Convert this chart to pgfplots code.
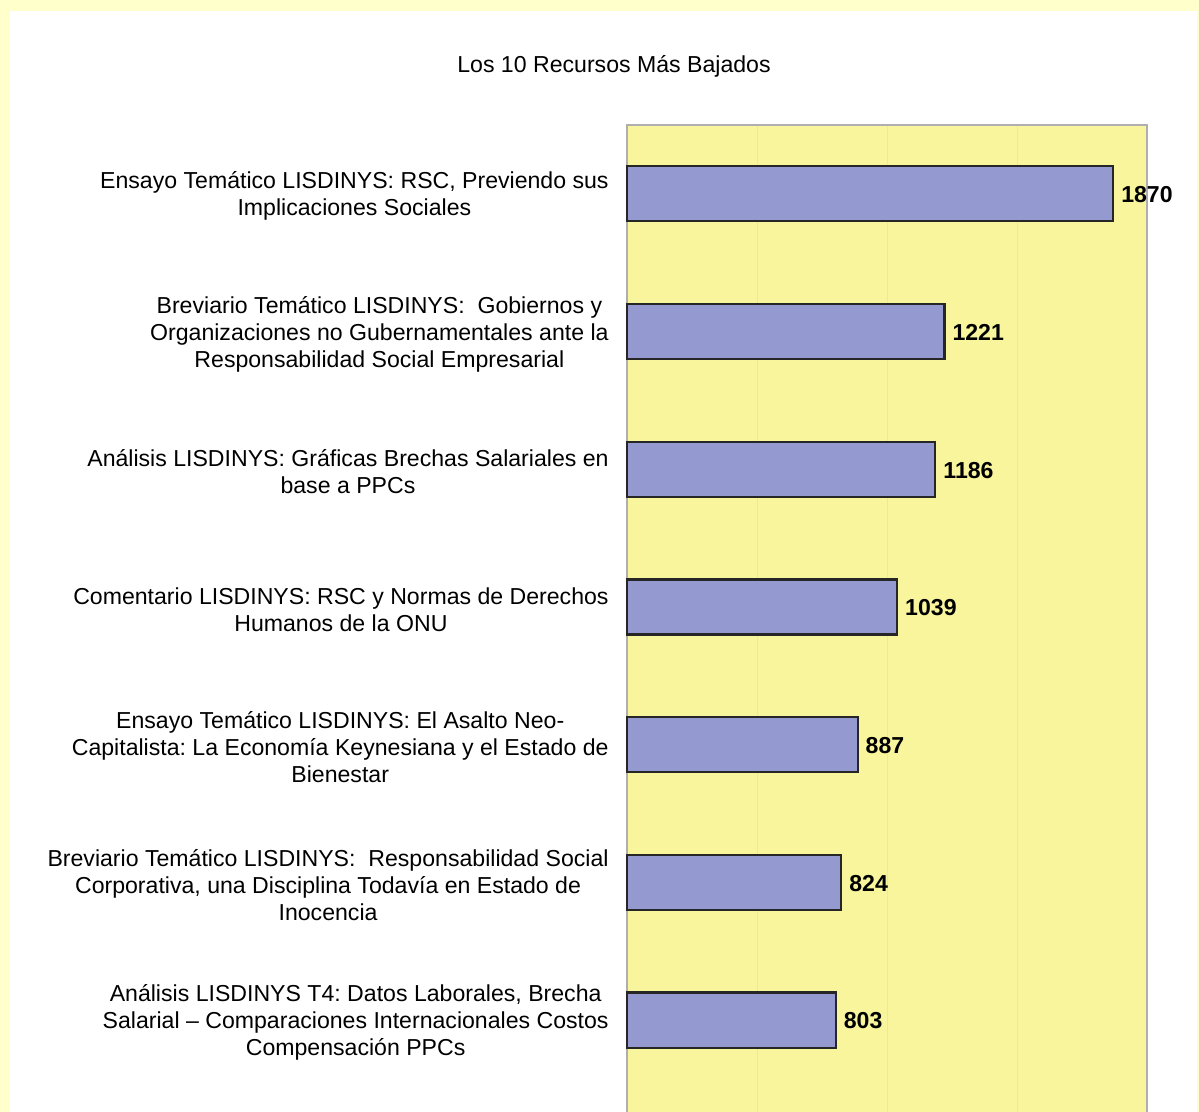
\documentclass[border=0pt]{standalone}
\usepackage{pgfplots}
\pgfplotsset{compat=1.18}
\usepackage{fontspec}
\setmainfont{Liberation Sans}
\frenchspacing
\definecolor{outery}{RGB}{255,255,204}
\definecolor{ploty}{RGB}{248,245,157}
\definecolor{barc}{RGB}{148,153,208}
\definecolor{gridc}{RGB}{225,228,208}
\definecolor{borderc}{RGB}{175,175,175}
\newcommand{\fs}{\fontsize{11.55}{13.5}\selectfont}
\begin{document}
\begin{tikzpicture}
\useasboundingbox (0,0) rectangle (599.5pt,556pt);
\clip (0,0) rectangle (599.5pt,556pt);
\fill[outery] (0,0) rectangle (599.5pt,556pt);
\fill[white] (5pt,0) rectangle (598.5pt,550.5pt);
\node[font=\fs] at (307pt,523pt) {Los 10 Recursos Más Bajados};
\begin{axis}[
  at={(313.5pt,493.5pt)}, anchor=north west,
  scale only axis, width=260pt, height=688.5pt,
  xbar, bar width=0.4,
  xmin=0, xmax=2000, ymin=0.5, ymax=10.5, y dir=reverse,
  axis background/.style={fill=ploty},
  axis line style={draw=borderc, line width=0.8pt},
  xtick={500,1000,1500}, xticklabels={},
  xmajorgrids, major grid style={gridc, line width=0.5pt},
  major tick length=0pt,
  ytick={1,2,3,4,5,6,7},
  yticklabels={
    {Ensayo Temático LISDINYS: RSC, Previendo sus\\Implicaciones Sociales},
    {Breviario Temático LISDINYS:~ Gobiernos y\\Organizaciones no Gubernamentales ante la\\Responsabilidad Social Empresarial},
    {Análisis LISDINYS: Gráficas Brechas Salariales en\\base a PPCs},
    {Comentario LISDINYS: RSC y Normas de Derechos\\Humanos de la ONU},
    {Ensayo Temático LISDINYS: El Asalto Neo-\\Capitalista: La Economía Keynesiana y el Estado de\\Bienestar},
    {Breviario Temático LISDINYS:~ Responsabilidad Social\\Corporativa, una Disciplina Todavía en Estado de\\Inocencia},
    {Análisis LISDINYS T4: Datos Laborales, Brecha\\Salarial – Comparaciones Internacionales Costos\\Compensación PPCs}
  },
  yticklabel style={align=center, font=\fs, inner sep=0pt, xshift=-9pt, yshift=-1.2pt},
  /pgf/number format/1000 sep={},
  /pgf/number format/assume math mode=true,
  nodes near coords,
  nodes near coords style={font=\fs\bfseries, anchor=west, inner sep=0pt, xshift=3.5pt, yshift=-0.5pt},
  clip=false,
]
\addplot[fill=barc, draw=black!85, line width=1.1pt] coordinates {(1870,1) (1221,2) (1186,3) (1039,4) (887,5) (824,6) (803,7)};
\end{axis}
\end{tikzpicture}
\end{document}
